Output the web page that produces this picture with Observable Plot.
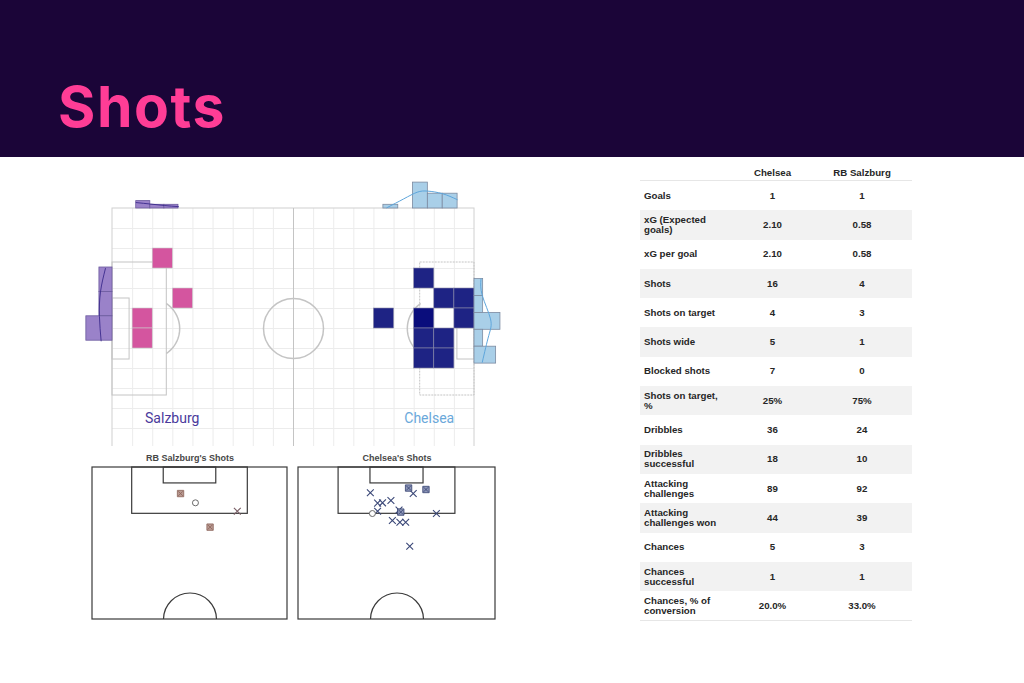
<!DOCTYPE html>
<html><head><meta charset="utf-8">
<script src="https://cdn.jsdelivr.net/npm/d3@7"></script>
<script src="https://cdn.jsdelivr.net/npm/@observablehq/plot@0.6"></script>
<style>
body{margin:0;background:#fff;}
#wrap{position:relative;width:1024px;height:683px;overflow:hidden;background:#fff;font-family:"Liberation Sans",Arial,sans-serif;}
#header{position:absolute;left:0;top:0;width:1024px;height:157px;background:#1b0538;}
#header h1{position:absolute;left:58px;top:78px;margin:0;font-family:Inter,"Liberation Sans",sans-serif;font-weight:700;font-size:57px;line-height:57px;color:#ff3d96;letter-spacing:1.6px;}
.pane{position:absolute;}
.pane svg{display:block;background:transparent;overflow:hidden;}
#stats{position:absolute;left:640px;top:164px;width:272px;border-collapse:collapse;font-family:"Liberation Sans",Arial,sans-serif;font-weight:700;font-size:9.7px;color:#262626;table-layout:fixed;}
#stats th{height:16px;padding:0 4px;font-weight:700;text-align:center;vertical-align:middle;border-bottom:1px solid #e6e6e6;}
#stats td{height:29.3px;padding:0 4px;vertical-align:middle;white-space:pre-line;line-height:10px;}
#stats td.v{text-align:center;}
#stats tbody tr:nth-child(even){background:#f2f2f2;}
#stats tbody tr:last-child td{border-bottom:1px solid #e6e6e6;}
</style></head>
<body><div id="wrap">
<div id="header"><h1>Shots</h1></div>
<div id="pitch" class="pane" style="left:80px;top:175px;"></div>
<div id="salzShots" class="pane" style="left:88px;top:448px;"></div>
<div id="chelShots" class="pane" style="left:294px;top:448px;"></div>
<table id="stats"><colgroup><col style="width:93px"><col style="width:79px"><col style="width:100px"></colgroup><thead></thead><tbody></tbody></table>
</div>
<script>
// ---------- data ----------
const teams = ["Chelsea", "RB Salzburg"];
const statLabels = ["Goals","xG (Expected\ngoals)","xG per goal","Shots","Shots on target","Shots wide","Blocked shots","Shots on target,\n%","Dribbles","Dribbles\nsuccessful","Attacking\nchallenges","Attacking\nchallenges won","Chances","Chances\nsuccessful","Chances, % of\nconversion"];
const chelseaStats = ["1","2.10","2.10","16","4","5","7","25%","36","18","89","44","5","1","20.0%"];
const salzburgStats = ["1","0.58","0.58","4","3","1","0","75%","24","10","92","39","3","1","33.0%"];

// shot heat cells on an 18 x 12 grid (col, row, shots)
const salzCells = [{col:2,row:2,n:1},{col:3,row:4,n:1},{col:1,row:5,n:1},{col:1,row:6,n:1}];
const chelCells = [{col:15,row:3,n:1},{col:16,row:4,n:1},{col:17,row:4,n:2},{col:13,row:5,n:1},{col:15,row:5,n:3},{col:17,row:5,n:2},{col:15,row:6,n:2},{col:16,row:6,n:2},{col:15,row:7,n:1},{col:16,row:7,n:1}];

// marginal histograms (bin edges in grid units, counts)
const salzTopEdges = [1.18, 1.88, 2.58, 3.28];
const salzTopCounts = [2, 1, 1];
const salzLeftEdges = [2.95, 4.17, 5.39, 6.61];
const salzLeftCounts = [1, 1, 2];
const chelTopEdges = [13.47, 14.21, 14.94, 15.68, 16.42, 17.16];
const chelTopCounts = [1, 0, 7, 4, 4];
const chelRightEdges = [3.53, 4.375, 5.22, 6.065, 6.91, 7.755];
const chelRightCounts = [2, 2, 6, 2, 5];

// density curves (position, density in count units)
const salzTopKdeX = [1.18, 1.89, 2.59, 3.28];
const salzTopKdeD = [1.6, 1.2, 0.8, 0.5];
const salzLeftKdeY = [3.0, 4.17, 5.39, 6.62];
const salzLeftKdeD = [0.54, 0.92, 1.0, 0.87];
const chelTopKdeX = [13.64, 14.48, 15.15, 15.68, 16.41, 17.14];
const chelTopKdeD = [0.2, 2.6, 4.4, 4.7, 4.0, 2.4];
const chelRightKdeY = [3.52, 4.35, 5.52, 6.35, 7.69];
const chelRightKdeD = [1.5, 1.8, 3.7, 3.3, 1.8];

// individual shots (x across 0-68 m, y from goal line in m)
const salzShots = [
  {x:30.7,y:9.0,t:"target"},{x:41.0,y:20.6,t:"target"},{x:35.9,y:12.2,t:"blocked"},{x:50.5,y:15.1,t:"miss"}
];
const chelShots = [
  {x:24.8,y:8.7,t:"miss"},{x:38.0,y:7.1,t:"target"},{x:44.0,y:7.6,t:"target"},{x:39.6,y:9.0,t:"miss"},
  {x:27.3,y:12.3,t:"miss"},{x:29.0,y:12.2,t:"miss"},{x:31.9,y:11.4,t:"miss"},{x:25.5,y:15.9,t:"blocked"},
  {x:27.3,y:15.1,t:"miss"},{x:34.7,y:14.7,t:"miss"},{x:35.3,y:15.4,t:"target"},{x:47.6,y:15.9,t:"miss"},
  {x:32.4,y:18.3,t:"miss"},{x:35.0,y:18.9,t:"miss"},{x:37.0,y:18.9,t:"miss"},{x:38.4,y:27.2,t:"miss"}
];

// ---------- helpers ----------
const bins = (edges, counts) => counts.map((c, i) => ({a: edges[i], b: edges[i + 1], c})).filter(d => d.c > 0);
const zip = (p, d) => p.map((v, i) => ({p: v, d: d[i]}));
const arc = (cx, cy, rx, ry, t0, t1) => d3.range(t0, t1 + 0.001, (t1 - t0) / 40).map(t => ({x: cx + rx * Math.cos(t), y: cy + ry * Math.sin(t)}));

const LINE = "#c4c4c4", GRID = "#ececec";
const topK = 0.185, chelRightK = 0.215, salzLeftK = 0.65;
const salzHist = {fill: "#9a82c9", stroke: "#6b5a9e", strokeWidth: 0.8};
const chelHist = {fill: "#a9cfe8", stroke: "#7c8aa0", strokeWidth: 0.8};
const aL = Math.acos((2.7 - 1.85) / 1.49);

const pitch = Plot.plot({
  width: 430, height: 271,
  marginLeft: 32, marginRight: 36, marginTop: 33, marginBottom: 0,
  x: {domain: [0, 18], axis: null},
  y: {domain: [0, 11.9], reverse: true, axis: null},
  marks: [
    Plot.ruleX(d3.range(1, 18), {y1: 0, y2: 12, stroke: GRID}),
    Plot.ruleY(d3.range(1, 12), {x1: 0, x2: 18, stroke: GRID}),
    // pitch markings
    Plot.rect([0], {x1: 0, x2: 18, y1: 0, y2: 12, fill: "none", stroke: "#d0d0d0"}),
    Plot.ruleX([9], {y1: 0, y2: 12, stroke: LINE}),
    Plot.dot([0], {x: () => 9, y: () => 6, r: 30, stroke: LINE, fill: "none"}),
    Plot.rect([0], {x1: 0, x2: 2.7, y1: 2.7, y2: 9.35, fill: "none", stroke: LINE}),
    Plot.rect([0], {x1: 0, x2: 0.85, y1: 4.5, y2: 7.55, fill: "none", stroke: LINE}),
    Plot.rect([0], {x1: 15.3, x2: 18, y1: 2.7, y2: 9.35, fill: "none", stroke: LINE, strokeDasharray: "2,1"}),
    Plot.rect([0], {x1: 17.15, x2: 18, y1: 4.5, y2: 7.55, fill: "none", stroke: LINE}),
    Plot.line(arc(1.85, 6, 1.49, 1.5, -aL, aL), {x: "x", y: "y", stroke: LINE, curve: "linear"}),
    Plot.line(arc(16.15, 6, 1.49, 1.5, Math.PI - aL, Math.PI + aL), {x: "x", y: "y", stroke: LINE, curve: "linear"}),
    // heat cells
    Plot.rect(salzCells, {x1: "col", x2: d => d.col + 1, y1: "row", y2: d => d.row + 1, fill: "#d4559f", stroke: "#c9c9c9", strokeWidth: 0.6}),
    Plot.rect(chelCells, {x1: "col", x2: d => d.col + 1, y1: "row", y2: d => d.row + 1, fill: d => d.n >= 3 ? "#0a0d7c" : "#1e2384", stroke: "#8a8aa8", strokeWidth: 0.6}),
    // marginal histograms
    Plot.rect(bins(salzTopEdges, salzTopCounts), {x1: "a", x2: "b", y1: d => -d.c * topK, y2: () => 0, ...salzHist}),
    Plot.rect(bins(salzLeftEdges, salzLeftCounts), {y1: "a", y2: "b", x1: d => -d.c * salzLeftK, x2: () => 0, ...salzHist}),
    Plot.rect(bins(chelTopEdges, chelTopCounts), {x1: "a", x2: "b", y1: d => -d.c * topK, y2: () => 0, ...chelHist}),
    Plot.rect(bins(chelRightEdges, chelRightCounts), {y1: "a", y2: "b", x1: () => 18, x2: d => 18 + d.c * chelRightK, ...chelHist}),
    Plot.line(zip(salzTopKdeX, salzTopKdeD), {x: "p", y: d => -d.d * topK, stroke: "#3b2a8c", strokeWidth: 0.9, curve: "natural"}),
    Plot.line(zip(salzLeftKdeY, salzLeftKdeD), {y: "p", x: d => -d.d * salzLeftK, stroke: "#3b2a8c", strokeWidth: 0.9, curve: "natural"}),
    Plot.line(zip(chelTopKdeX, chelTopKdeD), {x: "p", y: d => -d.d * topK, stroke: "#5ea6dc", strokeWidth: 1, curve: "natural"}),
    Plot.line(zip(chelRightKdeY, chelRightKdeD), {y: "p", x: d => 18 + d.d * chelRightK, stroke: "#5ea6dc", strokeWidth: 1, curve: "natural"}),
    // team labels
    Plot.text(["Salzburg"], {x: () => 2.97, y: () => 10.5, text: d => d, fill: "#4a3a9c", fontSize: 14, fontFamily: "Roboto"}),
    Plot.text(["Chelsea"], {x: () => 15.75, y: () => 10.5, text: d => d, fill: "#6aa8da", fontSize: 14, fontFamily: "Roboto"})
  ]
});
document.getElementById("pitch").appendChild(pitch);

function shotMap(title, shots, width, sq) {
  const ink = "#3a3a3a";
  return Plot.plot({
    width, height: 174,
    marginLeft: 4, marginRight: 5, marginTop: 19, marginBottom: 3,
    x: {domain: [0, 68], axis: null},
    y: {domain: [0, 52.5], reverse: true, axis: null},
    marks: [
      Plot.rect([0], {x1: 0, x2: 68, y1: 0, y2: 52.5, fill: "none", stroke: ink, strokeWidth: 1.2}),
      Plot.rect([0], {x1: 13.84, x2: 54.16, y1: 0, y2: 16, fill: "none", stroke: ink, strokeWidth: 1.2}),
      Plot.rect([0], {x1: 24.84, x2: 43.16, y1: 0, y2: 5.5, fill: "none", stroke: ink, strokeWidth: 1.2}),
      Plot.dot([0], {x: () => 34, y: () => 52.5, r: 26.5, fill: "none", stroke: ink, strokeWidth: 1.2, clip: true}),
      Plot.dot(shots.filter(d => d.t === "miss"), {x: "x", y: "y", symbol: "times", r: 3.2, stroke: sq.miss, strokeWidth: 1.1}),
      Plot.dot(shots.filter(d => d.t === "blocked"), {x: "x", y: "y", symbol: "circle", r: 3, stroke: "#6a6a6a", fill: "white", strokeWidth: 1}),
      Plot.dot(shots.filter(d => d.t === "target"), {x: "x", y: "y", symbol: "square", r: 3.6, fill: sq.fill, stroke: sq.stroke, strokeWidth: 0.8}),
      Plot.dot(shots.filter(d => d.t === "target"), {x: "x", y: "y", symbol: "times", r: 2.2, stroke: sq.stroke, strokeWidth: 0.8}),
      Plot.text([title], {frameAnchor: "top", lineAnchor: "middle", dy: -9, text: d => d, fontWeight: "bold", fontSize: 9, fill: "#474747", fontFamily: "Liberation Sans"})
    ]
  });
}
document.getElementById("salzShots").appendChild(shotMap("RB Salzburg's Shots", salzShots, 204, {fill: "#b99a92", stroke: "#8a6258", miss: "#7a5f66"}));
document.getElementById("chelShots").appendChild(shotMap("Chelsea's Shots", chelShots, 206, {fill: "#8d96b8", stroke: "#34406e", miss: "#3b4878"}));

// ---------- table ----------
const thead = d3.select("#stats thead").append("tr");
thead.append("th");
thead.selectAll("th.t").data(teams).join("th").attr("class", "t").text(d => d);
const rows = d3.select("#stats tbody").selectAll("tr").data(statLabels.map((l, i) => [l, chelseaStats[i], salzburgStats[i]])).join("tr");
rows.selectAll("td").data(d => d).join("td").attr("class", (d, i) => i ? "v" : null).text(d => d);
</script>
</body></html>
